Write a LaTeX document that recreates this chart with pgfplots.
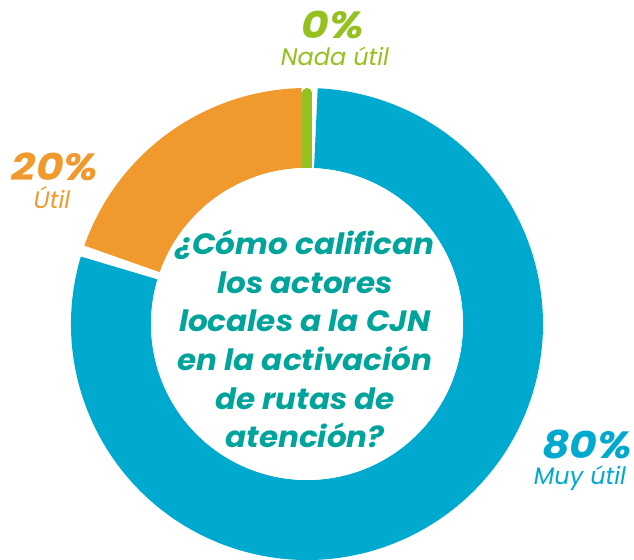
\documentclass[border=0pt]{standalone}
\usepackage{pgfplots}
\pgfplotsset{compat=1.18}
\usepackage{fontspec}
\setmainfont{Poppins}

\definecolor{cblue}{HTML}{00A9CE}
\definecolor{corange}{HTML}{F0992D}
\definecolor{cgreen}{HTML}{95C11F}
\definecolor{cteal}{HTML}{00A49A}

% shares (percent)
\def\vMuy{80}
\def\vUtil{20}
\def\vNada{0}

\begin{document}
\begin{tikzpicture}
  % geometry of the ring
  \def\cx{307}\def\cy{236}\def\Ro{236}\def\Ri{156}
  \pgfmathsetmacro{\aOs}{90+1.3}
  \pgfmathsetmacro{\aOe}{90+3.6*\vUtil-1.4}
  \pgfmathsetmacro{\aBs}{90+3.6*\vUtil+1.4}
  \pgfmathsetmacro{\aBe}{\aBs-1.4+3.6*\vMuy-1.2-1.4}
  \pgfmathsetmacro{\th}{\Ro-\Ri}
  \tikzset{pct/.style={font=\fontsize{38}{40}\selectfont\bfseries\itshape, inner sep=0pt, xscale=1.12, transform shape},
           lbl/.style={font=\fontsize{24}{26}\selectfont\itshape, anchor=base, inner sep=0pt}}
  \begin{axis}[
      x=1bp, y=1bp, scale only axis,
      xmin=0, xmax=634, ymin=0, ymax=560,
      hide axis, clip=true,
    ]
    % Util
    \fill[corange] (axis cs:\cx,\cy) ++(\aOs:\Ro bp)
      arc[start angle=\aOs, end angle=\aOe, radius=\Ro bp]
      -- ++(\aOe+180:\th bp)
      arc[start angle=\aOe, end angle=\aOs, radius=\Ri bp] -- cycle;
    % Muy util
    \fill[cblue] (axis cs:\cx,\cy) ++(\aBs:\Ro bp)
      arc[start angle=\aBs, end angle=\aBe, radius=\Ro bp]
      -- ++(\aBe+180:\th bp)
      arc[start angle=\aBe, end angle=\aBs, radius=\Ri bp] -- cycle;
    % Nada util (0 %): thin marker
    \draw[cgreen, line width=10bp, line cap=round]
      (axis cs:\cx,\cy) ++(0,150bp) -- ++(0,81bp);
    \fill[white] (axis cs:\cx,\cy) circle[radius=\Ri bp];

    \node[text=cteal, align=center, inner sep=0pt, xscale=1.055, transform shape,
      font=\fontsize{29.5}{38.8}\selectfont\bfseries\itshape]
      at (axis cs:305,221)
      {¿Cómo califican\\los actores\\locales a la CJN\\en la activación\\de rutas de\\atención?};

    \node[text=cgreen, pct] at (axis cs:333,535) {\vNada\%};
    \node[text=cgreen, lbl] at (axis cs:335,494) {Nada útil};

    \node[text=corange, pct] at (axis cs:55,393) {\vUtil\%};
    \node[text=corange, lbl] at (axis cs:52,351) {Útil};

    \node[text=cblue, pct] at (axis cs:587,116) {\vMuy\%};
    \node[text=cblue, lbl] at (axis cs:580,75) {Muy útil};
  \end{axis}
  \path[use as bounding box] (current axis.south west) rectangle (current axis.north east);
\end{tikzpicture}
\end{document}
